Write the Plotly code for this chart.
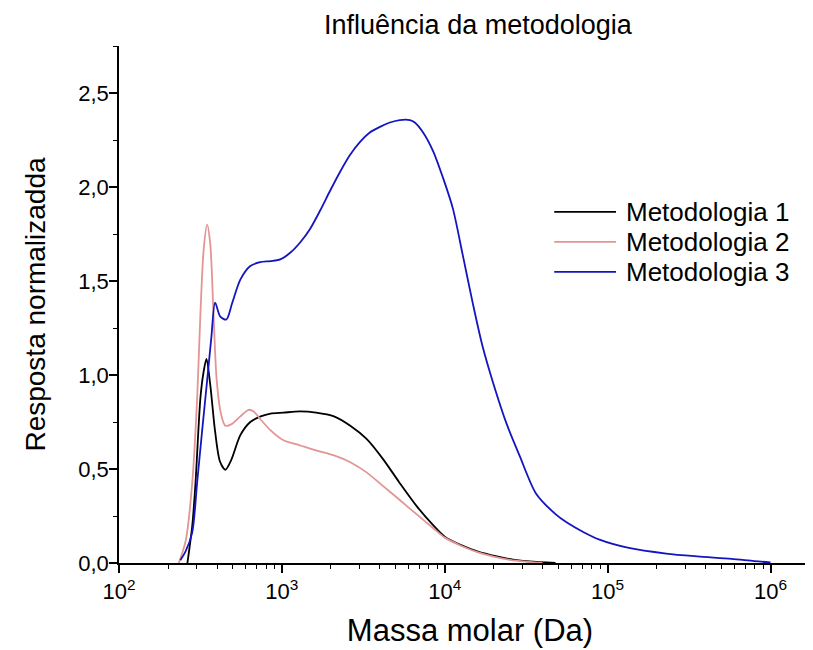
import numpy as np
import plotly.graph_objects as go

# log10 of molar mass (Da) and normalised response
m1_log = [2.42, 2.45, 2.47, 2.50, 2.52, 2.537, 2.56, 2.59, 2.62, 2.653, 2.69, 2.745,
          2.806, 2.87, 2.93, 3.01, 3.11, 3.21, 3.32, 3.42, 3.52, 3.62, 3.72, 3.83,
          3.93, 4.0, 4.1, 4.2, 4.32, 4.42, 4.52, 4.68]
m1_val = [0.0, 0.2, 0.43, 0.88, 1.02, 1.085, 0.95, 0.70, 0.54, 0.496, 0.55, 0.68,
          0.75, 0.78, 0.795, 0.80, 0.806, 0.80, 0.78, 0.73, 0.66, 0.554, 0.43, 0.30,
          0.20, 0.14, 0.095, 0.062, 0.035, 0.018, 0.008, 0.0]

m2_log = [2.367, 2.41, 2.45, 2.48, 2.50, 2.52, 2.541, 2.56, 2.58, 2.60, 2.627, 2.653,
          2.694, 2.745, 2.796, 2.827, 2.867, 2.929, 3.01, 3.11, 3.21, 3.32, 3.42, 3.52,
          3.62, 3.72, 3.83, 3.93, 4.0, 4.1, 4.2, 4.3, 4.4, 4.5, 4.6]
m2_val = [0.0, 0.12, 0.43, 0.88, 1.33, 1.67, 1.80, 1.70, 1.33, 0.97, 0.79, 0.73,
          0.74, 0.78, 0.815, 0.806, 0.766, 0.707, 0.653, 0.626, 0.599, 0.572, 0.536, 0.482,
          0.41, 0.338, 0.257, 0.185, 0.135, 0.092, 0.058, 0.034, 0.017, 0.007, 0.0]

m3_log = [2.377, 2.408, 2.449, 2.48, 2.51, 2.541, 2.567, 2.59, 2.622, 2.659, 2.694, 2.745,
          2.806, 2.867, 2.929, 2.99, 3.051, 3.112, 3.173, 3.235, 3.296, 3.357, 3.418, 3.48,
          3.54, 3.602, 3.663, 3.724, 3.786, 3.816, 3.867, 3.929, 3.99, 4.05, 4.11, 4.17,
          4.23, 4.30, 4.38, 4.46, 4.56, 4.68, 4.75, 4.85, 4.95, 5.13, 5.36, 5.55, 5.76, 5.9, 6.0]
m3_val = [0.015, 0.06, 0.16, 0.43, 0.70, 0.97, 1.20, 1.385, 1.31, 1.295, 1.38, 1.507,
          1.58, 1.60, 1.606, 1.615, 1.65, 1.705, 1.777, 1.875, 1.98, 2.08, 2.17, 2.24,
          2.29, 2.32, 2.343, 2.356, 2.356, 2.343, 2.29, 2.19, 2.047, 1.885, 1.64, 1.39,
          1.16, 0.95, 0.74, 0.57, 0.37, 0.26, 0.215, 0.165, 0.124, 0.08, 0.05, 0.035, 0.022, 0.01, 0.003]

series_names = ["Metodologia 1", "Metodologia 2", "Metodologia 3"]
series_colors = ["#000000", "#e39595", "#1515c0"]

x_ticks = [1e2, 1e3, 1e4, 1e5, 1e6]
x_ticktext = ["10<sup>2</sup>", "10<sup>3</sup>", "10<sup>4</sup>", "10<sup>5</sup>", "10<sup>6</sup>"]
y_ticks = [0.0, 0.5, 1.0, 1.5, 2.0, 2.5]

FONT = "Liberation Sans, Arial, sans-serif"

fig = go.Figure()
for name, color, lg, val in zip(series_names, series_colors,
                                [m1_log, m2_log, m3_log], [m1_val, m2_val, m3_val]):
    fig.add_trace(go.Scatter(
        x=np.power(10.0, lg), y=val, name=name, mode="lines",
        line=dict(color=color, width=1.8, shape="spline", smoothing=0.8),
    ))

# legend drawn by hand so that row spacing and sample length follow the reference
leg_rows = [0.679, 0.621, 0.563]
for name, color, yy in zip(series_names, series_colors, leg_rows):
    fig.add_shape(type="line", xref="paper", yref="paper",
                  x0=0.620, x1=0.708, y0=yy, y1=yy,
                  line=dict(color=color, width=1.8))
    fig.add_annotation(text=name, xref="paper", yref="paper", x=0.720, y=yy,
                       xanchor="left", yanchor="middle", showarrow=False,
                       font=dict(size=26, color="black"))

fig.update_layout(
    width=813, height=650,
    margin=dict(l=111, r=0, t=38, b=95),
    paper_bgcolor="white", plot_bgcolor="white",
    separators=",.",
    font=dict(family=FONT, color="black"),
    title=dict(text="Influência da metodologia", x=0.578, xanchor="center",
               y=0.974, yanchor="middle", font=dict(size=27)),
    showlegend=False,
)

fig.update_xaxes(
    type="log", range=[2, 6.31], automargin=False,
    showline=True, linecolor="black", linewidth=1.5,
    showgrid=False, zeroline=False,
    tickvals=x_ticks, ticktext=x_ticktext,
    ticks="outside", ticklen=8, tickwidth=1.5, tickcolor="black",
    tickfont=dict(size=22),
    minor=dict(ticks="outside", ticklen=4, tickwidth=1.2, tickcolor="black",
               dtick="D1", showgrid=False),
    title=dict(text="Massa molar (Da)", font=dict(size=31), standoff=16),
)

fig.update_yaxes(
    range=[0, 2.75], automargin=False,
    showline=True, linecolor="black", linewidth=1.5,
    showgrid=False, zeroline=False,
    tickvals=y_ticks, tickformat=".1f",
    ticks="outside", ticklen=8, tickwidth=1.5, tickcolor="black",
    tickfont=dict(size=22), ticklabelstandoff=-4,
    minor=dict(ticks="outside", ticklen=4, tickwidth=1.2, tickcolor="black",
               dtick=0.25, showgrid=False),
    title=dict(text="Resposta normalizadda", font=dict(size=28), standoff=24),
)

fig.write_html("out.html")
